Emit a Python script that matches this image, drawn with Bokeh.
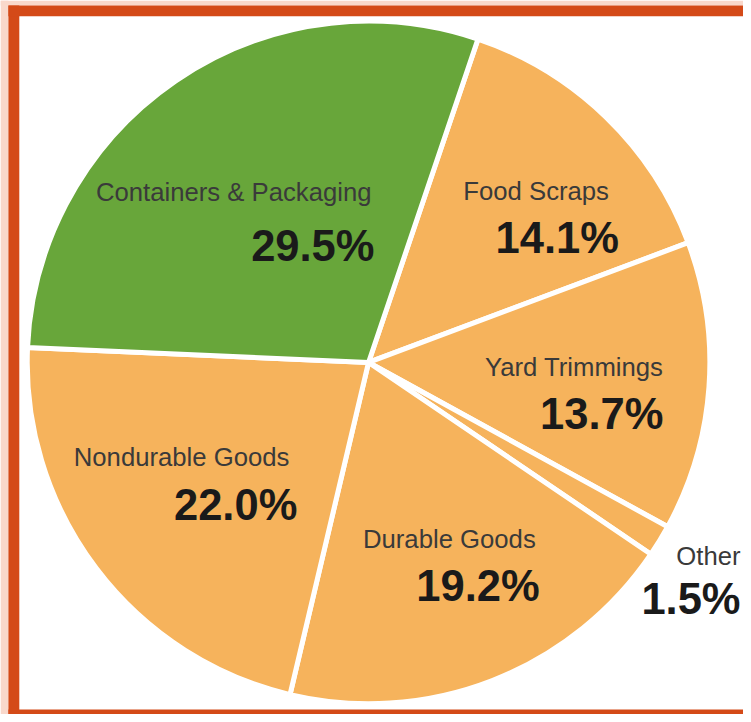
import math
from bokeh.plotting import figure
from bokeh.models import Range1d, ColumnDataSource
from bokeh.core.properties import value
from bokeh.embed import file_html
from bokeh.resources import INLINE

# ---- data (clockwise from the top boundary) ----
categories = ["Food Scraps", "Yard Trimmings", "Other", "Durable Goods",
              "Nondurable Goods", "Containers & Packaging"]
shares = [14.1, 13.7, 1.5, 19.2, 22.0, 29.5]
value_labels = ["14.1%", "13.7%", "1.5%", "19.2%", "22.0%", "29.5%"]

# ---- styling / layout ----
ORANGE = "#F6B35C"
GREEN = "#68A63A"
slice_colors = [ORANGE, ORANGE, ORANGE, ORANGE, ORANGE, GREEN]
BORDER = "#D44A18"
PINK = "#F9D8CB"
W, H = 743, 714            # figure size in screen px
RW, RH = 751, 722          # layout units (reference pixel grid)
SC = W / RW
CX, CY = 372, RH - 366
R = 345
START_DEG = 71.3

# label anchors (layout coords, y from top): name (x, baseline), value (x, baseline)
name_pos = [(615, 193), (670, 371), (748, 562), (541, 545), (292, 462), (375, 194)]
val_pos = [(625, 240), (670, 418), (748, 605), (545, 592), (300, 510), (378, 248)]

# ---- wedge angles ----
his, los = [], []
cum = 0.0
for s in shares:
    hi = START_DEG - cum * 3.6
    lo = hi - s * 3.6
    his.append(math.radians(hi))
    los.append(math.radians(lo))
    cum += s

src = ColumnDataSource(dict(cat=categories, share=shares, lo=los, hi=his,
                            color=slice_colors))

p = figure(width=W, height=H, output_backend="svg", toolbar_location=None,
           x_range=Range1d(0, RW), y_range=Range1d(0, RH),
           x_axis_location=None, y_axis_location=None, min_border=0,
           background_fill_color="white", border_fill_color="white")
p.outline_line_color = None
p.grid.visible = False

# outer pale strip (left, top)
p.quad(left=[0, 0], right=[8, RW], bottom=[0, RH - 5], top=[RH, RH],
       fill_color=PINK, line_color=None)
# frame border (left, top, bottom strips)
p.quad(left=[8, 8, 8], right=[19, RW, RW],
       bottom=[0, RH - 16, 0], top=[RH - 5, RH - 5, RH - 717],
       fill_color=BORDER, line_color=None)

p.wedge(x=CX, y=CY, radius=R, start_angle="lo", end_angle="hi",
        fill_color="color", line_color="white", line_width=5,
        line_join="round", source=src)

main_idx = [0, 1, 3, 4, 5]
other_idx = [2]

def lbl_src(idx):
    return ColumnDataSource(dict(
        nx=[name_pos[i][0] for i in idx], ny=[RH - name_pos[i][1] for i in idx],
        vx=[val_pos[i][0] for i in idx], vy=[RH - val_pos[i][1] for i in idx],
        name=[categories[i] for i in idx], val=[value_labels[i] for i in idx]))

name_size = "%.1fpx" % (26 * SC)
val_size = "%.1fpx" % (44 * SC)
for idx in (main_idx, other_idx):
    ls = lbl_src(idx)
    p.text(x="nx", y="ny", text="name", source=ls, text_align="right",
           text_baseline="alphabetic", text_font=value("Liberation Sans"),
           text_font_size=name_size, text_color="#3a3a3a")
    p.text(x="vx", y="vy", text="val", source=ls, text_align="right",
           text_baseline="alphabetic", text_font=value("Liberation Sans"),
           text_font_size=val_size, text_font_style="bold", text_color="#1a1a1a")

open("out.html", "w").write(file_html(p, INLINE))
